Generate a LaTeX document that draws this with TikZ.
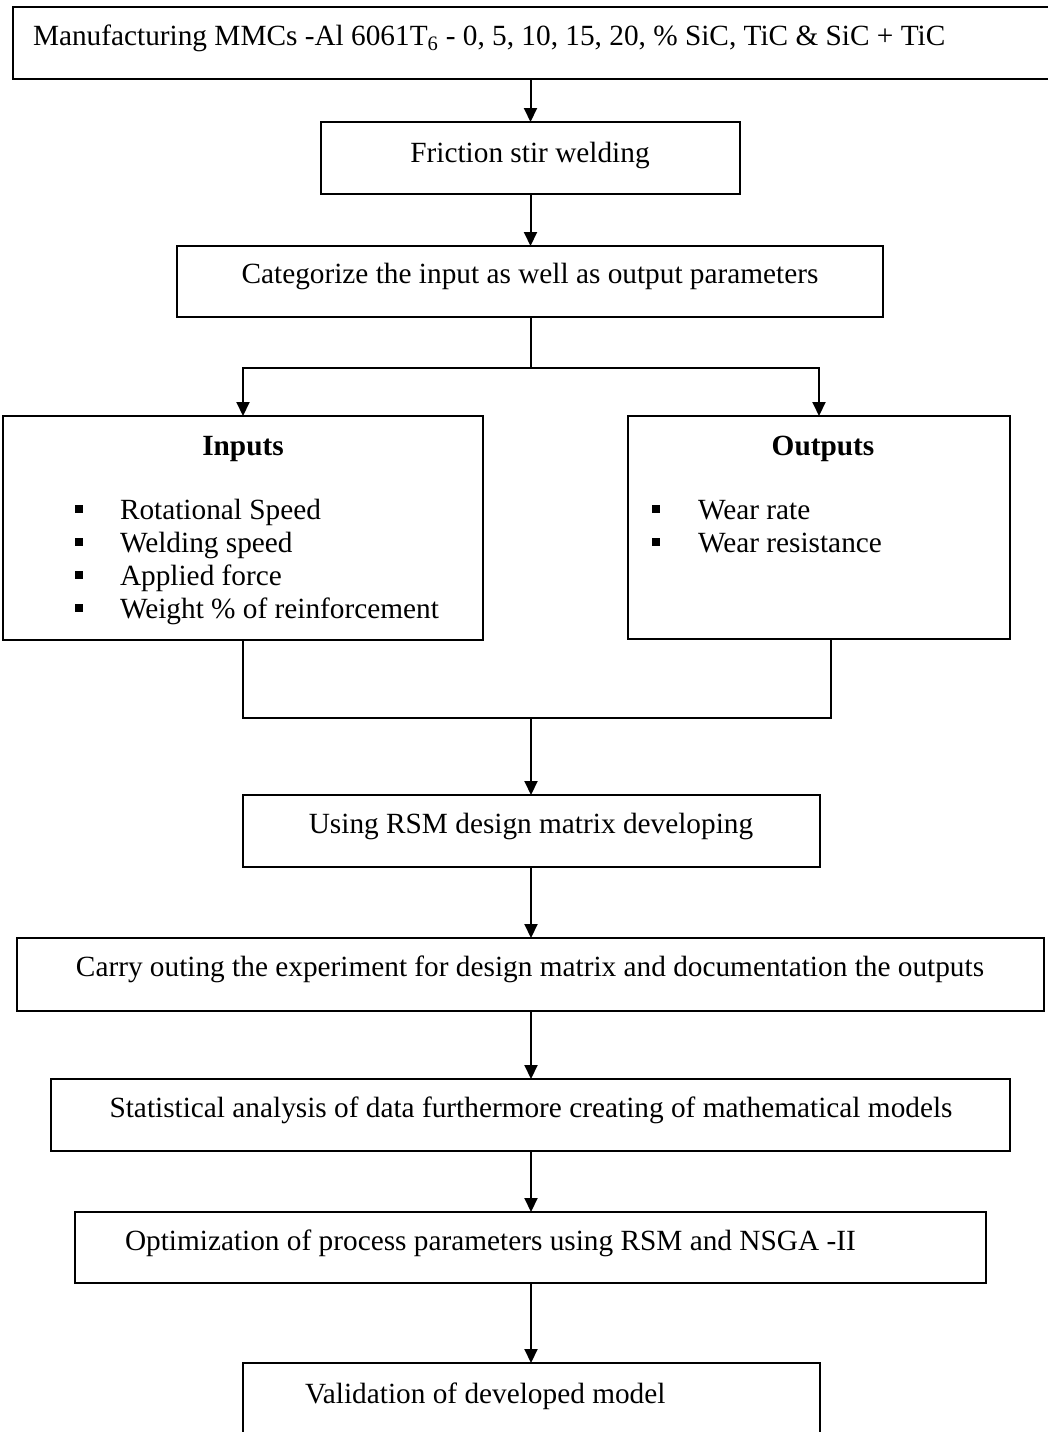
\documentclass[tikz,border=0pt]{standalone}
\usepackage{fontspec}
\setmainfont{Liberation Serif}
\usetikzlibrary{arrows.meta,calc}
\begin{document}
\begin{tikzpicture}[x=1pt,y=-1pt,
  box/.style={draw,line width=2pt,rectangle,inner sep=0pt,outer sep=0pt},
  txt/.style={inner sep=0pt,outer sep=0pt,font=\fontsize{29.3}{35}\selectfont},
  bul/.style={fill=black,rectangle,inner sep=0pt,minimum size=7.5pt},
  conn/.style={line width=2pt},
  arr/.style={line width=2pt,-{Triangle[length=14pt,width=13pt]}}]
\useasboundingbox (0,0) rectangle (1047,1432);
% boxes
\node[box,minimum width=1047pt,minimum height=72pt] (b1) at (536.5,43) {};
\node[box,minimum width=419pt,minimum height=72pt] (b2) at (530.5,158) {};
\node[box,minimum width=706pt,minimum height=71pt] (b3) at (530,281.5) {};
\node[box,minimum width=480pt,minimum height=224pt] (inp) at (243,528) {};
\node[box,minimum width=382pt,minimum height=223pt] (out) at (819,527.5) {};
\node[box,minimum width=577pt,minimum height=72pt] (rsm) at (531.5,831) {};
\node[box,minimum width=1027pt,minimum height=73pt] (carry) at (530.5,974.5) {};
\node[box,minimum width=959pt,minimum height=72pt] (stat) at (530.5,1115) {};
\node[box,minimum width=911pt,minimum height=71pt] (opt) at (530.5,1247.5) {};
\node[box,minimum width=577pt,minimum height=80pt] (val) at (531.5,1403) {};
% texts
\node[txt,anchor=base west] (t1) at (33,45) {Manufacturing MMCs -Al 6061T\textsubscript{6} - 0, 5, 10, 15, 20, \% SiC, TiC \& SiC + TiC};
\node[txt,anchor=base] (t2) at (530,162) {Friction stir welding};
\node[txt,anchor=base] (t3) at (530,283) {Categorize the input as well as output parameters};
\node[txt,anchor=base,font=\fontsize{29.3}{35}\selectfont\bfseries] (tin) at (243,455) {Inputs};
\node[txt,anchor=base,font=\fontsize{29.3}{35}\selectfont\bfseries] (tout) at (823,455) {Outputs};
\node[bul] (ib1) at (79,509) {};
\node[bul] (ib2) at (79,542) {};
\node[bul] (ib3) at (79,575) {};
\node[bul] (ib4) at (79,608) {};
\node[txt,anchor=base west] (i1) at (120,519) {Rotational Speed};
\node[txt,anchor=base west] (i2) at (120,552) {Welding speed};
\node[txt,anchor=base west] (i3) at (120,585) {Applied force};
\node[txt,anchor=base west] (i4) at (120,618) {Weight \% of reinforcement};
\node[bul] (ob1) at (656,509) {};
\node[bul] (ob2) at (656,542) {};
\node[txt,anchor=base west] (o1) at (698,519) {Wear rate};
\node[txt,anchor=base west] (o2) at (698,552) {Wear resistance};
\node[txt,anchor=base] (trsm) at (531,833) {Using RSM design matrix developing};
\node[txt,anchor=base] (tcarry) at (530,976) {Carry outing the experiment for design matrix and documentation the outputs};
\node[txt,anchor=base] (tstat) at (531,1117) {Statistical analysis of data furthermore creating of mathematical models};
\node[txt,anchor=base west] (topt) at (125,1250) {Optimization of process parameters using RSM and NSGA -II};
\node[txt,anchor=base west] (tval) at (305,1403) {Validation of developed model};
% connectors
\coordinate (split) at (531,368);
\coordinate (join) at (531,718);
\draw[arr] (b2.north |- b1.south) -- (b2.north);
\draw[arr] (b2.south) -- (b3.north -| b2.south);
\draw[conn] (b3.south -| split) -- (split);
\draw[arr] (split) -| (inp.north);
\draw[arr] (split) -| (out.north);
\draw[conn] (inp.south) |- (join) -| ([xshift=12pt]out.south);
\draw[arr] (join) -- (rsm.north -| join);
\draw[arr] (rsm.south -| join) -- (carry.north -| join);
\draw[arr] (carry.south -| join) -- (stat.north -| join);
\draw[arr] (stat.south -| join) -- (opt.north -| join);
\draw[arr] (opt.south -| join) -- (val.north -| join);
\end{tikzpicture}
\end{document}
